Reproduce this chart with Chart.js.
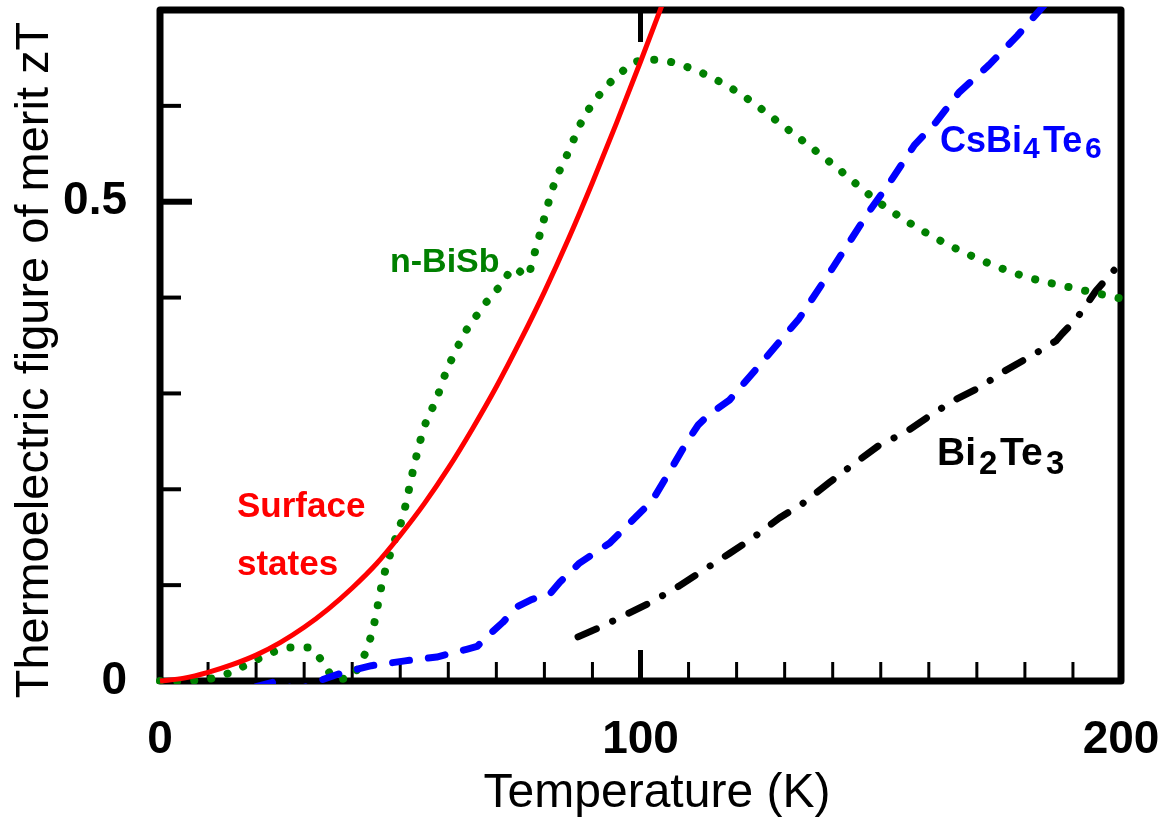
<!DOCTYPE html>
<html>
<head>
<meta charset="utf-8">
<script src="https://cdn.jsdelivr.net/npm/chart.js@4.4.0/dist/chart.umd.min.js"></script>
<style>
  html, body { margin: 0; padding: 0; background: #fff; }
  #wrap { width: 1175px; height: 822px; }
</style>
</head>
<body>
<div id="wrap"><canvas id="myChart"></canvas></div>
<script>
const FONT = "'Liberation Sans', Arial, sans-serif";

// Surface states (red, solid)
const surfaceT = [0, 5, 10, 15, 20, 25, 30, 35, 40, 45, 50, 55, 60, 65, 70, 75, 80, 85, 90, 95, 100, 105];
const surfaceZT = [0, 0.003, 0.009, 0.017, 0.027, 0.04, 0.056, 0.075, 0.097, 0.122, 0.152, 0.185, 0.222, 0.263, 0.307, 0.355, 0.406, 0.461, 0.52, 0.582, 0.646, 0.712];

// n-BiSb (green, dotted)
const bisbT = [0, 4, 8, 12, 16, 20, 24, 27, 31, 34, 36.5, 39.5, 42, 44.3, 46.4, 48.4, 50.5, 53, 55, 57.6, 59.5, 61.7, 63.4, 65.7, 68.2, 71.1, 73.8, 76.3, 77.3, 78, 79, 82, 85, 88, 92, 96, 99, 103, 110, 120, 130, 140, 150, 160, 170, 180, 190, 200];
const bisbZT = [0, 0, 0.001, 0.004, 0.012, 0.022, 0.031, 0.035, 0.035, 0.019, 0.002, 0.004, 0.021, 0.054, 0.106, 0.14, 0.171, 0.227, 0.265, 0.295, 0.322, 0.346, 0.363, 0.38, 0.397, 0.414, 0.431, 0.422, 0.433, 0.447, 0.465, 0.518, 0.552, 0.586, 0.615, 0.635, 0.646, 0.648, 0.64, 0.615, 0.578, 0.539, 0.498, 0.466, 0.441, 0.422, 0.41, 0.399];

// CsBi4Te6 (blue, dashed)
const csT = [20, 24.5, 28.5, 33, 37, 40, 44, 51, 57.6, 63.8, 66, 68, 71.3, 74.5, 77.3, 81, 83.2, 87.3, 93.6, 99.8, 102.3, 106, 109.6, 112, 114, 118.5, 124.7, 133, 140, 147.6, 152, 157, 161.5, 166.3, 172.6, 178.4, 184];
const csZT = [-0.006, 0, -0.01, 0, 0.007, 0.011, 0.016, 0.021, 0.025, 0.033, 0.036, 0.046, 0.061, 0.078, 0.085, 0.09, 0.103, 0.123, 0.144, 0.175, 0.187, 0.218, 0.249, 0.267, 0.277, 0.293, 0.329, 0.378, 0.431, 0.49, 0.521, 0.559, 0.583, 0.614, 0.643, 0.673, 0.705];

// Bi2Te3 (black, dash-dot)
const btT = [87, 92, 97.7, 102.5, 108, 112.9, 118.5, 123.3, 128.9, 133.7, 139.3, 144, 149.7, 155.3, 159.7, 165.3, 170.5, 175.3, 181.3, 186.5, 187.7, 190.6, 194.8, 199, 200];
const btZT = [0.046, 0.057, 0.071, 0.083, 0.099, 0.115, 0.133, 0.149, 0.17, 0.185, 0.207, 0.225, 0.246, 0.26, 0.275, 0.293, 0.306, 0.322, 0.339, 0.355, 0.362, 0.377, 0.407, 0.431, 0.437];

const xMajorTicks = [0, 100, 200];
const yMajorTicks = [0, 0.5];
const xMinorTicks = [10, 20, 30, 40, 50, 60, 70, 80, 90, 110, 120, 130, 140, 150, 160, 170, 180, 190];
const yMinorTicks = [0.1, 0.2, 0.3, 0.4, 0.6];

const toPoints = (xs, ys) => xs.map((x, i) => ({ x, y: ys[i] }));

// no automatic label overflow padding, the plot box is fixed
const noPad = scale => {
  scale.paddingTop = 0;
  scale.paddingBottom = 0;
  scale.paddingLeft = 0;
  scale.paddingRight = 0;
};

const frameAndTicks = {
  id: 'frameAndTicks',
  beforeDatasetsDraw(chart) {
    const { ctx, chartArea: a, scales: { x, y } } = chart;
    const seg = (x1, y1, x2, y2, w) => {
      ctx.lineWidth = w;
      ctx.beginPath();
      ctx.moveTo(x1, y1);
      ctx.lineTo(x2, y2);
      ctx.stroke();
    };
    ctx.save();
    ctx.strokeStyle = '#000';
    ctx.lineCap = 'butt';
    xMinorTicks.forEach(v => {
      const px = x.getPixelForValue(v);
      seg(px, a.bottom, px, a.bottom - 19, 3);
    });
    const px100 = x.getPixelForValue(100);
    seg(px100, a.bottom, px100, a.bottom - 31, 5);
    seg(px100, a.top, px100, a.top + 32, 5);
    yMinorTicks.forEach(v => {
      const py = y.getPixelForValue(v);
      seg(a.left, py, a.left + 21, py, 4);
    });
    const py05 = y.getPixelForValue(0.5);
    seg(a.left, py05, a.left + 32, py05, 6);
    ctx.lineWidth = 7;
    ctx.lineJoin = 'round';
    ctx.strokeRect(a.left, a.top, a.right - a.left, a.bottom - a.top);
    ctx.restore();
  }
};

const labels = {
  id: 'labels',
  afterDraw(chart) {
    const { ctx } = chart;
    const text = (s, x, y, size, color, weight) => {
      ctx.font = (weight || 'bold') + ' ' + size + 'px ' + FONT;
      ctx.fillStyle = color;
      ctx.fillText(s, x, y);
    };
    ctx.save();
    ctx.textBaseline = 'alphabetic';
    ctx.textAlign = 'left';
    text('Surface', 237, 517, 35, '#ff0000');
    text('states', 237, 575, 35, '#ff0000');
    text('n-BiSb', 390, 272, 34, '#008000');
    text('CsBi', 940, 152, 36, '#0000ff');
    text('4', 1023, 158, 30, '#0000ff');
    text('Te', 1043, 152, 36, '#0000ff');
    text('6', 1085, 158, 30, '#0000ff');
    text('Bi', 937, 465, 39, '#000');
    text('2', 979, 474, 33, '#000');
    text('Te', 1000, 465, 39, '#000');
    text('3', 1046, 474, 33, '#000');

    ctx.textAlign = 'center';
    text('Temperature (K)', 657, 807, 48, '#000', 'normal');
    ctx.translate(48, 360);
    ctx.rotate(-Math.PI / 2);
    text('Thermoelectric figure of merit zT', 0, 0, 47, '#000', 'normal');
    ctx.restore();
  }
};

const lineClip = { left: 6, top: 3, right: 6, bottom: 3 };

new Chart(document.getElementById('myChart'), {
  type: 'line',
  data: {
    datasets: [{
      label: 'Surface states',
      data: toPoints(surfaceT, surfaceZT),
      borderColor: '#ff0000',
      borderWidth: 5,
      cubicInterpolationMode: 'monotone',
      clip: lineClip
    }, {
      label: 'CsBi4Te6',
      data: toPoints(csT, csZT),
      borderColor: '#0000ff',
      borderWidth: 7,
      borderDash: [17, 19],
      borderCapStyle: 'round',
      borderJoinStyle: 'round',
      tension: 0,
      clip: lineClip
    }, {
      label: 'n-BiSb',
      data: toPoints(bisbT, bisbZT),
      borderColor: '#008000',
      borderWidth: 8,
      borderDash: [0.1, 17],
      borderCapStyle: 'round',
      cubicInterpolationMode: 'monotone',
      clip: lineClip
    }, {
      label: 'Bi2Te3',
      data: toPoints(btT, btZT),
      borderColor: '#000000',
      borderWidth: 7,
      borderDash: [20, 18, 0.1, 18],
      borderCapStyle: 'round',
      borderJoinStyle: 'round',
      tension: 0,
      clip: lineClip
    }]
  },
  options: {
    responsive: true,
    maintainAspectRatio: false,
    animation: false,
    layout: { padding: { top: 10, right: 54, left: 0, bottom: 0 } },
    elements: { point: { radius: 0 } },
    plugins: {
      legend: { display: false },
      tooltip: { enabled: false }
    },
    scales: {
      x: {
        type: 'linear',
        min: 0,
        max: 200,
        border: { display: false },
        grid: { display: false },
        afterBuildTicks: scale => { scale.ticks = xMajorTicks.map(v => ({ value: v })); },
        afterFit: scale => { scale.height = 141; noPad(scale); },
        ticks: {
          color: '#000',
          font: { family: FONT, size: 46, weight: 'bold' },
          padding: 24,
          maxRotation: 0,
          autoSkip: false,
          callback: v => String(v)
        }
      },
      y: {
        type: 'linear',
        min: 0,
        max: 0.7,
        border: { display: false },
        grid: { display: false },
        afterBuildTicks: scale => { scale.ticks = yMajorTicks.map(v => ({ value: v })); },
        afterFit: scale => { scale.width = 160; noPad(scale); },
        ticks: {
          color: '#000',
          font: { family: FONT, size: 46, weight: 'bold' },
          padding: 25,
          autoSkip: false,
          callback: v => String(v)
        }
      }
    }
  },
  plugins: [frameAndTicks, labels]
});
</script>
</body>
</html>
